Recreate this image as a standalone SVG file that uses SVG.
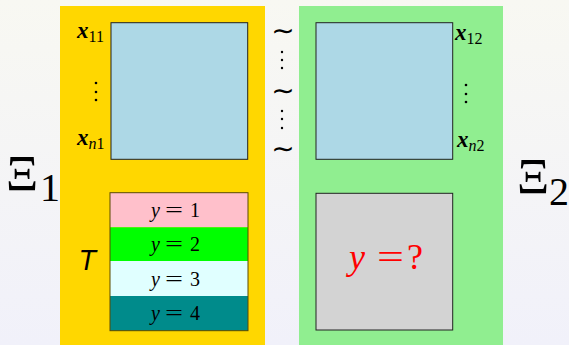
<svg xmlns="http://www.w3.org/2000/svg" width="569" height="345" viewBox="0 0 569 345">
<defs>
<linearGradient id="bg" x1="0" y1="0" x2="0" y2="1">
<stop offset="0" stop-color="#f8f8f2"/>
<stop offset="1" stop-color="#f1f1fa"/>
</linearGradient>
</defs>
<style>
.box{stroke:#222;stroke-width:1}
.xl{font-family:"Liberation Serif",serif;font-style:italic;font-weight:bold;font-size:23px}
.sub{font-size:16px;font-style:normal;font-weight:normal}
.subi{font-size:16px;font-style:italic;font-weight:normal}
.row{font-family:"Liberation Serif",serif;font-size:20px}
.dots{fill:#000}
.tl{font-family:"DejaVu Sans",sans-serif;font-size:28px;text-anchor:middle}
.xi{font-family:"Liberation Serif",serif;font-size:50px}
.xs{font-family:"Liberation Serif",serif;font-size:40px}
</style>
<rect width="569" height="345" fill="url(#bg)"/>
<g id="panel1">
<rect x="60" y="6" width="205" height="339" fill="#FFD700"/>
</g>
<g id="panel2">
<rect x="299" y="6" width="204" height="339" fill="#90EE90"/>
</g>
<g id="X1">
<rect class="box" x="111" y="22.7" width="136.7" height="136.6" fill="#ADD8E6"/>
<text class="xl" x="77" y="38">x<tspan class="sub" dy="4">11</tspan></text>
<circle class="dots" cx="96" cy="83" r="1.3"/><circle class="dots" cx="96" cy="92" r="1.3"/><circle class="dots" cx="96" cy="100" r="1.3"/>
<text class="xl" x="77" y="145">x<tspan class="subi" dy="4">n</tspan><tspan class="sub">1</tspan></text>
</g>
<g id="X2">
<rect class="box" x="316" y="22.7" width="136.7" height="136.6" fill="#ADD8E6"/>
<text class="xl" x="455" y="40">x<tspan class="sub" dy="4">12</tspan></text>
<circle class="dots" cx="466" cy="85" r="1.3"/><circle class="dots" cx="466" cy="94" r="1.3"/><circle class="dots" cx="466" cy="102" r="1.3"/>
<text class="xl" x="457" y="147">x<tspan class="subi" dy="4">n</tspan><tspan class="sub">2</tspan></text>
</g>
<g id="T">
<rect x="110" y="192.7" width="138" height="34.6" fill="#FFC0CB"/>
<rect x="110" y="227.3" width="138" height="33.7" fill="#00FF00"/>
<rect x="110" y="261" width="138" height="35" fill="#E0FFFF"/>
<rect x="110" y="296" width="138" height="34.7" fill="#008B8B"/>
<rect x="110" y="192.7" width="138" height="138" fill="none" stroke="#5a4a00" stroke-width="1"/>
<text class="row" y="217"><tspan x="151" font-style="italic">y</tspan><tspan x="165" textLength="18" lengthAdjust="spacingAndGlyphs">=</tspan><tspan x="190">1</tspan></text>
<text class="row" y="251"><tspan x="151" font-style="italic">y</tspan><tspan x="165" textLength="18" lengthAdjust="spacingAndGlyphs">=</tspan><tspan x="190">2</tspan></text>
<text class="row" y="286"><tspan x="151" font-style="italic">y</tspan><tspan x="165" textLength="18" lengthAdjust="spacingAndGlyphs">=</tspan><tspan x="190">3</tspan></text>
<text class="row" y="320"><tspan x="151" font-style="italic">y</tspan><tspan x="165" textLength="18" lengthAdjust="spacingAndGlyphs">=</tspan><tspan x="190">4</tspan></text>
<text x="88" y="270" font-family="DejaVu Sans, sans-serif" font-style="italic" font-size="26" text-anchor="middle">T</text>
</g>
<g id="Y2">
<rect class="box" x="316" y="193.3" width="136.7" height="136.7" fill="#D3D3D3"/>
<text y="269" font-family="Liberation Serif, serif" font-size="36" fill="#FF0000"><tspan x="349" font-style="italic">y</tspan><tspan x="377" textLength="27" lengthAdjust="spacingAndGlyphs">=</tspan><tspan x="407">?</tspan></text>
</g>
<g id="tilde">
<text class="tl" x="283" y="40">∼</text>
<text class="tl" x="283" y="100">∼</text>
<text class="tl" x="283" y="158">∼</text>
<circle class="dots" cx="282" cy="52" r="1.2"/><circle class="dots" cx="282" cy="60" r="1.2"/><circle class="dots" cx="282" cy="68" r="1.2"/>
<circle class="dots" cx="282" cy="111" r="1.2"/><circle class="dots" cx="282" cy="119" r="1.2"/><circle class="dots" cx="282" cy="128" r="1.2"/>
</g>
<g id="Xi1">
<text class="xi" x="6" y="190">Ξ</text>
<text class="xs" x="40" y="201">1</text>
</g>
<g id="Xi2">
<text class="xi" x="517" y="193">Ξ</text>
<text class="xs" x="549" y="205">2</text>
</g>
</svg>
